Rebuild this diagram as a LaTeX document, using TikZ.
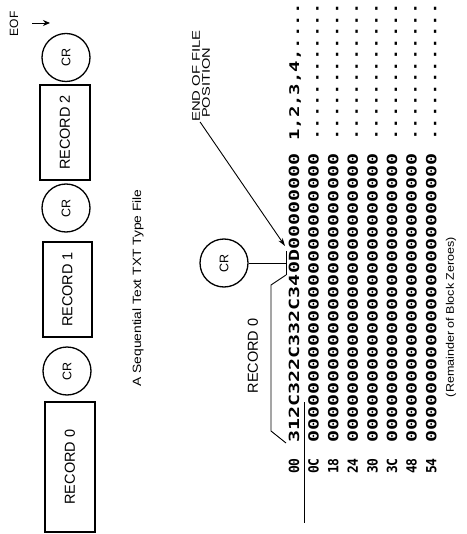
\documentclass[tikz,border=0pt]{standalone}
\usepackage{fontspec}
\setmainfont{Liberation Sans}
\newfontfamily\dumpfont{DejaVu Sans Mono}
\usetikzlibrary{arrows.meta}
\begin{document}
\begin{tikzpicture}[x=1pt,y=-1pt,
  lbl/.style={rotate=90, inner sep=0pt, font=\fontsize{14.5}{15}\selectfont},
  recbox/.style={draw, line width=1.7pt, rotate=90, inner sep=0pt, font=\fontsize{14.5}{15}\selectfont},
  crcirc/.style={draw, circle, line width=1.3pt, minimum size=48pt, inner sep=0pt, rotate=90, font=\fontsize{12.5}{13}\selectfont},
  hexrow/.style={rotate=90, anchor=base west, inner sep=0pt, font=\dumpfont\bfseries\fontsize{20}{20}\selectfont},
  ascrow/.style={rotate=90, anchor=base west, inner sep=0pt, font=\dumpfont\bfseries\fontsize{19}{19}\selectfont},
  offs/.style={rotate=90, anchor=base east, inner sep=0pt, font=\dumpfont\bfseries\fontsize{20}{20}\selectfont},
  thinln/.style={line width=0.9pt},
]
\fill[white] (0,0) rectangle (466,534);
\useasboundingbox (0,0) rectangle (466,534);

% left column: the file as a sequence of records
\node[recbox, minimum width=130pt, minimum height=50pt] (rec0) at (70,467) {RECORD 0};
\node[crcirc] (cr0) at (67,371) {CR};
\node[recbox, minimum width=95pt, minimum height=49pt] (rec1) at (67.5,289.5) {RECORD 1};
\node[crcirc] (cr1) at (66,208) {CR};
\node[recbox, minimum width=95pt, minimum height=50pt] (rec2) at (65,132.5) {RECORD 2};
\node[crcirc] (cr2) at (66,57.5) {CR};

% EOF marker
\node[lbl, font=\fontsize{12}{12}\selectfont] (eof) at (14,24) {EOF};
\coordinate (eofa) at (32,23);
\coordinate (eofb) at (50,23);
\draw[thinln, -{Stealth[length=7pt,width=6pt]}] (eofa) -- (eofb);

% caption
\node[lbl, font=\fontsize{12}{12}\selectfont] (cap) at (138,288) {\scalebox{1.15}[1]{A Sequential Text TXT Type File}};

% end of file label
\node[lbl, anchor=west, font=\fontsize{11}{11}\selectfont] (eofl1) at (196,122) {\scalebox{1.35}[1]{END OF FILE}};
\node[lbl, anchor=west, font=\fontsize{11}{11}\selectfont] (eofl2) at (206,118) {\scalebox{1.33}[1]{POSITION}};

% hex dump
\node[hexrow] (row0a) at ({294+5.1},443) {\scalebox{1}[0.7]{312C322C332C34}};
\node[hexrow] (row0b) at (row0a.base east) {\scalebox{1}[0.7]{0D}};
\node[hexrow] (row0c) at (row0b.base east) {\scalebox{1}[0.7]{00000000}};
\foreach \i in {1,...,7}{
  \node[hexrow] (row\i) at ({294+19.6*\i+5.1},443) {\scalebox{1}[0.7]{000000000000000000000000}};
}
\foreach \i/\t in {0/00,1/0C,2/18,3/24,4/30,5/3C,6/48,7/54}{
  \node[offs] (off\i) at ({294+19.6*\i+5.1},458) {\scalebox{0.65}[0.7]{\t}};
}
\node[ascrow] (asc0) at ({294+5.1},141) {\scalebox{1}[0.7]{1,2,3,4,....}};
\foreach \i in {1,...,7}{
  \node[ascrow] (asc\i) at ({294+19.6*\i+5.1},141) {\scalebox{1}[0.7]{............}};
}

% separator line
\coordinate (ula) at (304,402);
\coordinate (ulb) at (304,523);
\draw[thinln] (ula) -- (ulb);

% record 0 bracket
\coordinate (b0s) at (286,443);
\coordinate (b0a) at (271,431);
\coordinate (b0b) at (271,285);
\coordinate (b0e) at (286,275);
\draw[thinln] (b0s) -- (b0a) -- (b0b) -- (b0e);
\node[lbl] (rec0lbl) at (253,356) {RECORD 0};

% CR bracket
\node[crcirc] (cr3) at (224,263) {CR};
\coordinate (b1s) at (286,275);
\coordinate (b1e) at (286,251);
\coordinate (b1m) at (286,263);
\draw[thinln] (b1s) -- (b1e);
\draw[thinln] (cr3) -- (b1m);

% end of file leader
\coordinate (eofpos) at (285,246);
\draw[thinln, -{Stealth[length=8pt,width=5pt]}] (eofl1.south west) -- (eofpos);

% remainder label
\node[lbl, font=\fontsize{11}{11}\selectfont] (rem) at (451,317) {\scalebox{1.14}[1]{(Remainder of Block Zeroes)}};
\end{tikzpicture}
\end{document}
